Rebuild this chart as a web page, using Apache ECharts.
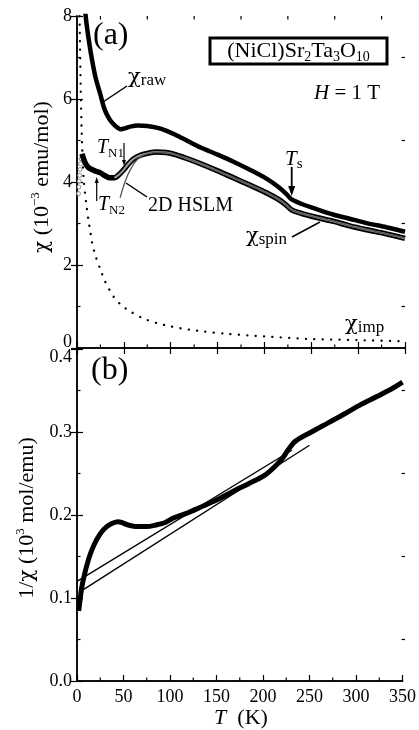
<!DOCTYPE html>
<html><head><meta charset="utf-8">
<script src="https://cdn.jsdelivr.net/npm/echarts@6/dist/echarts.min.js"></script>
<style>html,body{margin:0;padding:0;background:#fff}#c{width:419px;height:730px}</style>
</head><body><div id="c"></div>
<script>
// ---- data ----
var rawT = [8.3,10,12.4,16,20,24.8,28.4,32,36,40,44,47,52,58,65,75,85,95,105,118,132,150,167,185,203,215,223,229,240,255,274,290,309,330,350];
var rawV = [8.2,7.85,7.45,6.95,6.5,6.12,5.82,5.62,5.47,5.37,5.3,5.27,5.3,5.34,5.36,5.35,5.31,5.24,5.14,4.99,4.83,4.66,4.49,4.29,4.07,3.88,3.72,3.58,3.47,3.35,3.21,3.12,3.01,2.91,2.80];
var spinT = [5.3,8,11,14,20,25,30,35,40,45,50,55,60,67,75,85,95,105,118,132,150,167,185,203,215,223,229,240,255,274,290,309,330,350];
var spinV = [4.68,4.5,4.38,4.32,4.26,4.22,4.15,4.1,4.1,4.18,4.3,4.44,4.55,4.64,4.69,4.72,4.71,4.66,4.56,4.44,4.27,4.1,3.92,3.73,3.58,3.45,3.33,3.24,3.15,3.05,2.95,2.85,2.75,2.64];
var spinLowT = [1.6,2.0,2.4,2.8,3.3,3.8,4.4];
var spinLowV = [3.72,3.88,4.02,4.16,4.3,4.44,4.56];
var hslmT = [46,50,54,58,62,67,75,85,95,105,118,132,150,167,185,203,215,223,229,240,255,274,290,309,330,350];
var hslmV = [3.62,3.92,4.16,4.34,4.48,4.6,4.68,4.72,4.71,4.66,4.56,4.44,4.27,4.1,3.92,3.73,3.58,3.45,3.33,3.24,3.15,3.05,2.95,2.85,2.75,2.64];
var impT = [2.6,3,4,5,7,10,12.5,14.2,16,20,25,30,39,47,57,70,85,100,120,135,160,200,245,300,350];
var impV = [8.4,7.6,6.2,5.2,4.1,3.45,3.05,2.8,2.55,2.2,1.89,1.6,1.24,1.04,0.88,0.72,0.6,0.52,0.44,0.4,0.34,0.28,0.22,0.19,0.16];
var invT = [1.8,3,5,8,12,16,21,26,32,38,44,48,55,65,75,85,95,103,110,120,132,150,167,185,202,216,222,228,235,252,270,288,305,323,340,350];
var invV = [0.0845,0.095,0.112,0.128,0.145,0.158,0.170,0.179,0.186,0.190,0.192,0.191,0.188,0.186,0.186,0.188,0.191,0.196,0.199,0.203,0.209,0.218,0.228,0.238,0.248,0.262,0.270,0.280,0.289,0.300,0.311,0.322,0.333,0.343,0.353,0.360];
var fitUpperT = [0, 231];
var fitUpperV = [0.120, 0.278];
var fitLowerT = [3.5, 250];
var fitLowerV = [0.1076, 0.284];
var xTickLabels = ['0','50','100','150','200','250','300','350'];
var yTopTicks = ['0','2','4','6','8'];
var yBotTicks = ['0.0','0.1','0.2','0.3','0.4'];
var xMinor = [25,75,125,175,225,275,325];
var yTopMinor = [1,3,5,7];
var yBotMinor = [0.05,0.15,0.25,0.35];

function zip(a, b) { return a.map(function (v, i) { return [v, b[i]]; }); }

var FONT = '"Liberation Serif", "Times New Roman", serif';
var GREEK = '"DejaVu Serif", serif';
var ctx = document.createElement('canvas').getContext('2d');
function fnt(p) { return (p.i ? 'italic ' : '') + p.s + 'px ' + (p.g ? GREEK : FONT); }
function tw(p) { ctx.font = fnt(p); return ctx.measureText(p.t).width; }

// pieces: {t, s, i, g, dy}; x = left, B = baseline
function runs(x, B, pieces) {
  var out = [], cx = x;
  pieces.forEach(function (p) {
    out.push({ type: 'text', x: cx, y: B - 0.32 * p.s + (p.dy || 0),
      style: { text: p.t, fill: '#000', font: fnt(p), align: 'left', verticalAlign: 'middle' } });
    cx += tw(p) + (p.gap || 0);
  });
  return out;
}
function width(pieces) { var w = 0; pieces.forEach(function (p) { w += tw(p) + (p.gap || 0); }); return w; }
function line(x1, y1, x2, y2, w) { return { type: 'line', shape: { x1: x1, y1: y1, x2: x2, y2: y2 }, style: { stroke: '#000', lineWidth: w || 1.4 } }; }
function arrow(x1, y1, x2, y2, hl, hw, lw) {
  var dx = x2 - x1, dy = y2 - y1, L = Math.sqrt(dx * dx + dy * dy), ux = dx / L, uy = dy / L;
  var bx = x2 - ux * hl, by = y2 - uy * hl;
  return [line(x1, y1, bx + ux * 1, by + uy * 1, lw),
    { type: 'polygon', shape: { points: [[x2, y2], [bx - uy * hw / 2, by + ux * hw / 2], [bx + uy * hw / 2, by - ux * hw / 2]] }, style: { fill: '#000' } }];
}

var G = [];
function add(a) { G = G.concat(a); }
// panel labels
add(runs(93, 46, [{ t: '(a)', s: 32 }]));
add(runs(91, 381, [{ t: '(b)', s: 32 }]));
// formula box
G.push({ type: 'rect', shape: { x: 210, y: 38, width: 177, height: 26 }, style: { fill: '#fff', stroke: '#000', lineWidth: 3 } });
var fp = [{ t: '(NiCl)Sr', s: 22 }, { t: '2', s: 14, dy: 4 }, { t: 'Ta', s: 22 }, { t: '3', s: 14, dy: 4 }, { t: 'O', s: 22 }, { t: '10', s: 14, dy: 4 }];
add(runs(298.5 - width(fp) / 2, 58, fp));
add(runs(314, 100, [{ t: 'H', s: 21, i: true }, { t: ' = 1 T', s: 21 }]));
// chi raw
add(runs(128, 84, [{ t: 'χ', s: 21, g: true }, { t: 'raw', s: 17, dy: 2 }]));
add([line(127, 86, 103, 102, 1.5)]);
// TN1
add(runs(97, 154, [{ t: 'T', s: 20, i: true }, { t: 'N1', s: 13, dy: 4 }]));
add(arrow(124, 143, 124, 166, 6, 4, 1.2));
// TN2
add(runs(98, 211, [{ t: 'T', s: 20, i: true }, { t: 'N2', s: 13, dy: 4 }]));
add(arrow(96.7, 201, 96.7, 177, 6, 4, 1.2));
// 2D HSLM
add(runs(148, 212, [{ t: '2D HSLM', s: 20 }]));
add([line(147, 197, 126, 183, 1.5)]);
// Ts
add(runs(285, 166, [{ t: 'T', s: 21, i: true }, { t: 's', s: 15, dy: 3 }]));
add(arrow(291.7, 167, 291.7, 196, 10, 7, 1.8));
// chi spin
add(runs(246, 243, [{ t: 'χ', s: 21, g: true }, { t: 'spin', s: 17, dy: 2 }]));
add([line(292, 237, 320, 222, 1.5)]);
// chi imp
add(runs(345, 331, [{ t: 'χ', s: 21, g: true }, { t: 'imp', s: 17, dy: 2 }]));
// axis titles
var yt1 = [{ t: 'χ', s: 20, g: true }, { t: ' (10', s: 22 }, { t: '−3', s: 13, dy: -9 }, { t: ' emu/mol)', s: 22 }];
G.push({ type: 'group', x: 42, y: 177, rotation: Math.PI / 2, children: runs(-width(yt1) / 2, 0.32 * 22, yt1) });
var yt2 = [{ t: '1/', s: 22 }, { t: 'χ', s: 20, g: true }, { t: ' (10', s: 22 }, { t: '3', s: 13, dy: -9 }, { t: ' mol/emu)', s: 22 }];
G.push({ type: 'group', x: 27, y: 518, rotation: Math.PI / 2, children: runs(-width(yt2) / 2, 0.32 * 22, yt2) });
var xt = [{ t: 'T', s: 22, i: true }, { t: '  (K)', s: 22 }];
add(runs(241 - width(xt) / 2, 725, xt));

var axisLineS = { show: true, lineStyle: { color: '#000', width: 1.5 } };
var tick = { show: true, inside: true, length: 6, lineStyle: { color: '#000', width: 1.2 } };
var lab = { color: '#000', fontFamily: FONT, fontSize: 18 };
function xa(grid, pos, labels, ticks) {
  return { type: 'value', gridIndex: grid, position: pos, min: 0, max: 350, interval: 50,
    axisLine: axisLineS, axisTick: ticks ? tick : { show: false }, minorTick: { show: false },
    splitLine: { show: false },
    axisLabel: labels ? Object.assign({}, lab, { margin: 7, formatter: function (v) { return xTickLabels[v / 50]; } }) : { show: false } };
}
function ya(grid, pos, max, interval, labels) {
  return { type: 'value', gridIndex: grid, position: pos, min: 0, max: max, interval: interval,
    axisLine: axisLineS, axisTick: tick, minorTick: { show: false },
    splitLine: { show: false },
    axisLabel: labels ? Object.assign({}, lab, { margin: 5, formatter: labels,
      rich: { lo: { fontFamily: FONT, fontSize: 18, color: '#000', padding: [0, 0, 12, 0] },
              hi: { fontFamily: FONT, fontSize: 18, color: '#000', padding: [16, 0, 0, 0] } } }) : { show: false } };
}

var chart = echarts.init(document.getElementById('c'), null, { renderer: 'canvas' });
chart.setOption({
  animation: false,
  backgroundColor: '#fff',
  grid: [{ left: 77, top: 16, width: 328, height: 332 }, { left: 77, top: 349, width: 328, height: 332 }],
  xAxis: [xa(0, 'bottom', false, true), xa(0, 'top', false, true), xa(1, 'bottom', true, true), xa(1, 'top', false, false)],
  yAxis: [
    ya(0, 'left', 8, 2, function (v) { var s = yTopTicks[v / 2]; return v === 0 ? '{lo|' + s + '}' : s; }),
    ya(0, 'right', 8, 2, null),
    ya(1, 'left', 0.4, 0.1, function (v) { var s = yBotTicks[Math.round(v * 10)]; return Math.abs(v - 0.4) < 1e-6 ? '{hi|' + s + '}' : s; }),
    ya(1, 'right', 0.4, 0.1, null)
  ],
  series: [
    { type: 'line', xAxisIndex: 0, yAxisIndex: 0, data: zip(impT, impV), showSymbol: false, smooth: 0.3, clip: true,
      lineStyle: { color: '#000', width: 2.3, type: [0.1, 8.3], cap: 'round' } },
    { type: 'line', xAxisIndex: 0, yAxisIndex: 0, data: zip(rawT, rawV), showSymbol: false, smooth: 0.3, clip: true,
      lineStyle: { color: '#000', width: 4.5 } },
    { type: 'line', xAxisIndex: 0, yAxisIndex: 0, data: zip(spinT, spinV), showSymbol: false, smooth: 0.3,
      lineStyle: { color: '#000', width: 5.5 } },
    { type: 'line', xAxisIndex: 0, yAxisIndex: 0, data: zip(spinT, spinV).filter(function (d) { return d[0] >= 38; }), showSymbol: false, smooth: 0.3,
      lineStyle: { color: '#9a9a9a', width: 2 } },
    { type: 'line', xAxisIndex: 0, yAxisIndex: 0, data: zip(hslmT, hslmV), showSymbol: false, smooth: 0.3,
      lineStyle: { color: '#555', width: 1.3 } },
    { type: 'scatter', xAxisIndex: 0, yAxisIndex: 0, data: zip(spinLowT, spinLowV), symbol: 'circle', symbolSize: 4,
      itemStyle: { color: '#fff', borderColor: '#777', borderWidth: 1 } },
    { type: 'line', xAxisIndex: 2, yAxisIndex: 2, data: zip(fitUpperT, fitUpperV), showSymbol: false,
      lineStyle: { color: '#000', width: 1.4 } },
    { type: 'line', xAxisIndex: 2, yAxisIndex: 2, data: zip(fitLowerT, fitLowerV), showSymbol: false,
      lineStyle: { color: '#000', width: 1.4 } },
    { type: 'line', xAxisIndex: 2, yAxisIndex: 2, data: zip(invT, invV), showSymbol: false, smooth: 0.3,
      lineStyle: { color: '#000', width: 5 } }
  ],
  graphic: G
});

// minor ticks (inward), placed through the axes' own scales
var ML = 3.5, T = [];
function mtl(x1, y1, x2, y2) { return { type: 'line', shape: { x1: x1, y1: y1, x2: x2, y2: y2 }, style: { stroke: '#000', lineWidth: 1.2 } }; }
function px(ax, v) { return chart.convertToPixel({ xAxisIndex: ax }, v); }
function py(ax, v) { return chart.convertToPixel({ yAxisIndex: ax }, v); }
var xl0 = px(0, 0), xr0 = px(0, 350);
var top0 = py(0, 8), bot0 = py(0, 0), top1 = py(2, 0.4), bot1 = py(2, 0);
xMinor.forEach(function (v) {
  var x = px(0, v);
  T.push(mtl(x, bot0, x, bot0 - ML), mtl(x, top0, x, top0 + ML));
  var x2 = px(2, v);
  T.push(mtl(x2, bot1, x2, bot1 - ML));
});
yTopMinor.forEach(function (v) {
  var y = py(0, v);
  T.push(mtl(xl0, y, xl0 + ML, y), mtl(xr0, y, xr0 - ML, y));
});
yBotMinor.forEach(function (v) {
  var y = py(2, v);
  T.push(mtl(xl0, y, xl0 + ML, y), mtl(xr0, y, xr0 - ML, y));
});
chart.setOption({ graphic: G.concat(T) });
</script></body></html>
